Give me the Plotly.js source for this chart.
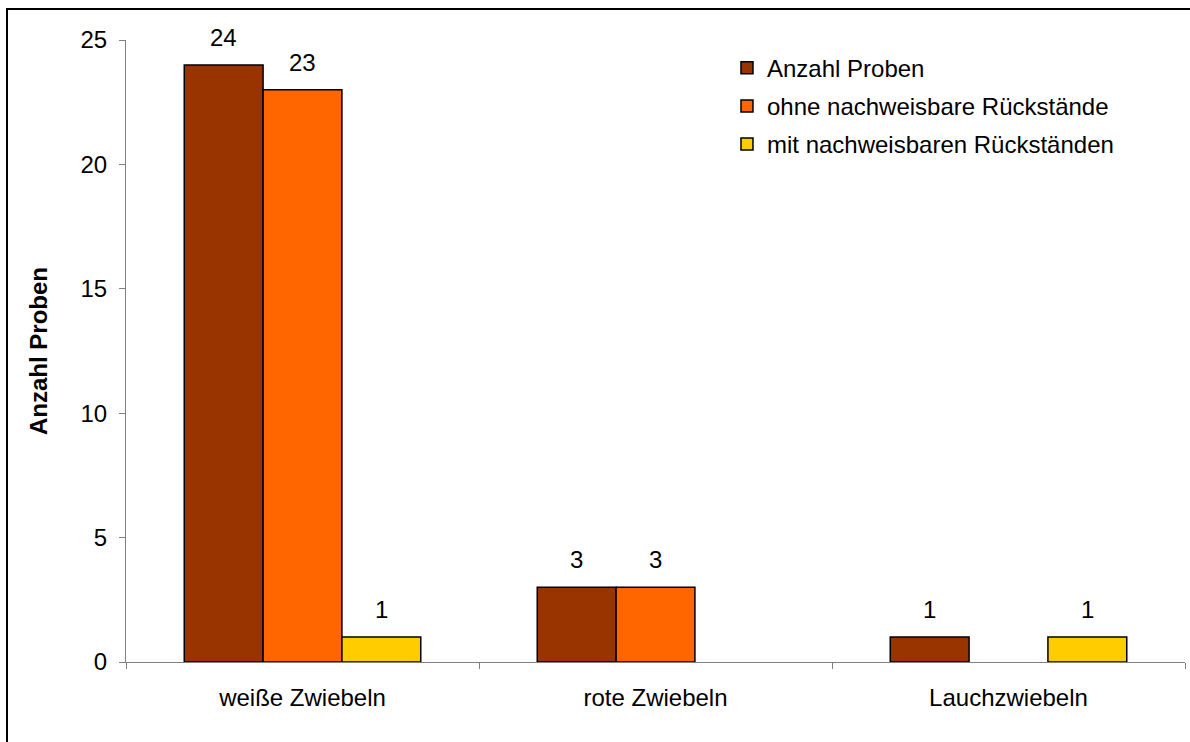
<!DOCTYPE html>
<html>
<head>
<meta charset="utf-8">
<script src="https://cdn.plot.ly/plotly-3.0.1.min.js"></script>
<style>html,body{margin:0;padding:0;background:#fff;}#chart{width:1190px;height:742px;}</style>
</head>
<body>
<div id="chart"></div>
<script>
const categories = ["weiße Zwiebeln", "rote Zwiebeln", "Lauchzwiebeln"];
const seriesNames = ["Anzahl Proben", "ohne nachweisbare Rückstände", "mit nachweisbaren Rückständen"];
const anzahlProben = [24, 3, 1];
const ohneRueckstaende = [23, 3, null];
const mitRueckstaenden = [1, null, 1];
const seriesColors = ["#993300", "#FF6600", "#FFCC00"];
const yTicks = [0, 5, 10, 15, 20, 25];

const font = "Liberation Sans, Arial, sans-serif";
const fs = 24;
const bargap = 0.33;
const allValues = [anzahlProben, ohneRueckstaende, mitRueckstaenden];
const nSeries = allValues.length;

const traces = allValues.map((vals, i) => ({
  type: "bar",
  name: seriesNames[i],
  x: categories,
  y: vals,
  legendgroup: "g" + i,
  marker: {color: seriesColors[i], line: {color: "#000", width: 1.5}},
  hoverinfo: "x+y+name"
}));

// value labels above bars, placed via the category axis (index + group offset)
const barFrac = (1 - bargap) / nSeries;
const annotations = [];
allValues.forEach((vals, i) => {
  vals.forEach((v, c) => {
    if (v === null) return;
    annotations.push({
      xref: "x", yref: "y",
      x: c + (i - (nSeries - 1) / 2) * barFrac,
      y: v,
      text: String(v),
      showarrow: false,
      xanchor: "center", yanchor: "bottom",
      yshift: 12,
      font: {family: font, size: fs, color: "#000"}
    });
  });
});

const layout = {
  width: 1190, height: 742,
  margin: {l: 126, r: 5, t: 40, b: 80},
  paper_bgcolor: "#fff", plot_bgcolor: "#fff",
  font: {family: font, size: fs, color: "#000"},
  barmode: "group",
  bargap: bargap,
  bargroupgap: 0,
  showlegend: true,
  legend: {
    x: 0.5675, y: 0.991, xanchor: "left", yanchor: "top",
    font: {family: font, size: fs, color: "#000"},
    tracegroupgap: 4,
    traceorder: "grouped",
    bgcolor: "rgba(0,0,0,0)"
  },
  xaxis: {
    type: "category",
    showline: true, linecolor: "#808080", linewidth: 1,
    ticks: "outside", tickson: "boundaries", ticklen: 6, tickcolor: "#808080",
    ticklabelstandoff: 14,
    showgrid: false, zeroline: false,
    tickfont: {family: font, size: fs, color: "#000"},
    fixedrange: true
  },
  yaxis: {
    range: [0, 25],
    tickvals: yTicks,
    showline: true, linecolor: "#808080", linewidth: 1,
    ticks: "outside", ticklen: 6, tickcolor: "#808080",
    ticklabelstandoff: 7,
    showgrid: false, zeroline: false,
    tickfont: {family: font, size: fs, color: "#000"},
    title: {text: "<b>Anzahl Proben</b>", font: {family: font, size: fs, color: "#000"}, standoff: 26},
    fixedrange: true
  },
  annotations: annotations,
  shapes: [{
    type: "rect", xref: "paper", yref: "paper",
    x0: (7 - 126) / 1059, x1: 1.2,
    y0: -0.3, y1: (662 - 9) / 622,
    line: {color: "#000", width: 2}, fillcolor: "rgba(0,0,0,0)", layer: "below"
  }]
};

Plotly.newPlot("chart", traces, layout, {displayModeBar: false, staticPlot: true});
</script>
</body>
</html>
